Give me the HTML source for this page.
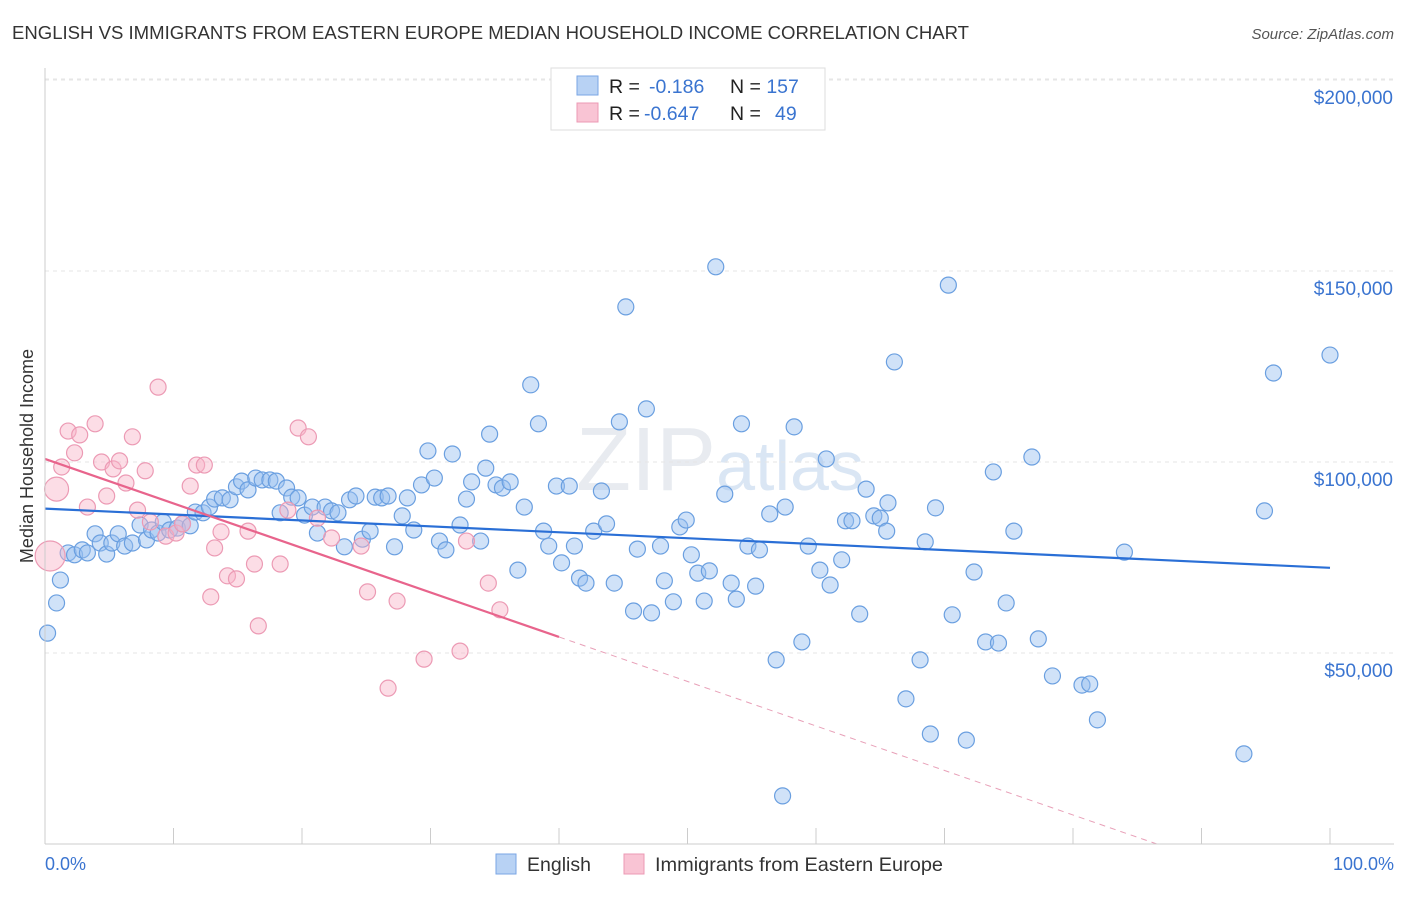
<!DOCTYPE html>
<html><head><meta charset="utf-8"><style>
body{margin:0;background:#fff;font-family:"Liberation Sans",sans-serif;}
svg text{font-family:"Liberation Sans",sans-serif;}
</style></head><body>
<svg id="c" width="1406" height="892" xmlns="http://www.w3.org/2000/svg">
<text x="12" y="39" font-size="18" fill="#333" textLength="957" lengthAdjust="spacingAndGlyphs">ENGLISH VS IMMIGRANTS FROM EASTERN EUROPE MEDIAN HOUSEHOLD INCOME CORRELATION CHART</text>
<text x="1394" y="39" font-size="15" fill="#555" font-style="italic" text-anchor="end">Source: ZipAtlas.com</text>
<text x="33" y="456" font-size="18" fill="#333" text-anchor="middle" transform="rotate(-90 33 456)">Median Household Income</text>
<text x="720" y="490" font-size="90" fill="#e8ebf0" text-anchor="middle" font-family="Liberation Serif">ZIP<tspan fill="#dae6f4" font-family="Liberation Sans" font-size="70">atlas</tspan></text>
<g id="grid"></g><g id="pts"></g><g id="trend"></g>
<line x1="45" y1="68" x2="45" y2="844" stroke="#ccc"/>
<line x1="45" y1="844" x2="1394" y2="844" stroke="#ccc"/>
<text x="45" y="870" font-size="18" fill="#3a74d0">0.0%</text>
<text x="1394" y="870" font-size="18" fill="#3a74d0" text-anchor="end">100.0%</text>
<g>
<rect x="551" y="68" width="274" height="62" fill="#fff" stroke="#ddd"/>
<rect x="577" y="76" width="21" height="19" fill="#b8d2f4" stroke="#7aa6e4"/>
<rect x="577" y="103" width="21" height="19" fill="#f9c4d4" stroke="#ec9ab4"/>
<text x="609" y="93" font-size="19.5" fill="#222">R = <tspan fill="#3a74d0" x="649">-0.186</tspan><tspan x="730">N = </tspan><tspan fill="#3a74d0">157</tspan></text>
<text x="609" y="120" font-size="19.5" fill="#222">R = <tspan fill="#3a74d0" x="644">-0.647</tspan><tspan x="730">N = </tspan><tspan fill="#3a74d0" x="775">49</tspan></text>
</g>
<g>
<rect x="496" y="854" width="20" height="20" fill="#b8d2f4" stroke="#7aa6e4"/>
<text x="527" y="871" font-size="19.5" fill="#333">English</text>
<rect x="624" y="854" width="20" height="20" fill="#f9c4d4" stroke="#ec9ab4"/>
<text x="655" y="871" font-size="19.5" fill="#333" textLength="288" lengthAdjust="spacingAndGlyphs">Immigrants from Eastern Europe</text>
</g>
</svg>
<script>
const yTicks=[50000,100000,150000,200000];
const yTickLabels=["$50,000","$100,000","$150,000","$200,000"];
const englishX=[0.2,0.9,1.2,1.8,2.3,2.9,3.3,3.9,4.3,4.8,5.2,5.7,6.2,6.8,7.4,7.9,8.3,8.8,9.2,9.7,10.3,10.7,11.3,11.7,12.3,12.8,13.2,13.8,14.4,14.9,15.3,15.8,16.4,16.9,17.5,18.0,18.3,18.8,19.2,19.7,20.2,20.8,21.2,21.8,22.3,22.8,23.3,23.7,24.2,24.7,25.3,25.7,26.2,26.7,27.2,27.8,28.2,28.7,29.3,29.8,30.3,30.7,31.2,31.7,32.3,32.8,33.2,33.9,34.3,34.6,35.1,35.6,36.2,36.8,37.3,37.8,38.4,38.8,39.2,39.8,40.2,40.8,41.2,41.6,42.1,42.7,43.3,43.7,44.3,44.7,45.2,45.8,46.1,46.8,47.2,47.9,48.2,48.9,49.4,49.9,50.3,50.8,51.3,51.7,52.2,52.9,53.4,53.8,54.2,54.7,55.3,55.6,56.4,56.9,57.6,57.4,58.3,58.9,59.4,60.3,60.8,61.1,62.0,62.3,62.8,63.4,63.9,64.5,65.0,65.5,65.6,66.1,67.0,68.1,68.5,68.9,69.3,70.3,70.6,71.7,72.3,73.2,73.8,74.2,74.8,75.4,76.8,77.3,78.4,80.7,81.3,81.9,84.0,93.3,94.9,95.6,100.0];
const englishY=[55.2,63.1,69.1,76.2,75.7,77.0,76.2,81.2,78.8,75.9,78.8,81.2,78.0,78.8,83.5,79.6,82.2,81.4,84.3,82.2,82.7,83.8,83.3,86.9,86.7,88.2,90.3,90.6,90.1,93.5,95.0,92.7,95.8,95.3,95.3,95.0,86.7,93.2,90.8,90.6,86.1,88.2,81.4,88.2,87.2,86.7,77.8,90.1,91.1,79.8,81.9,90.8,90.6,91.1,77.8,85.9,90.6,82.2,94.0,102.9,95.8,79.3,77.0,102.1,83.5,90.3,94.8,79.3,98.4,107.3,94.0,93.2,94.8,71.7,88.2,120.2,110.0,81.9,78.0,93.7,73.6,93.7,78.0,69.6,68.3,81.9,92.4,83.8,68.3,110.5,140.6,61.0,77.2,113.9,60.5,78.0,68.9,63.4,83.0,84.8,75.7,70.9,63.6,71.5,151.1,91.6,68.3,64.1,110.0,78.0,67.5,77.0,86.4,48.2,88.2,12.6,109.2,52.9,78.0,71.7,100.8,67.8,74.4,84.6,84.6,60.2,92.9,85.9,85.3,81.9,89.3,126.2,38.0,48.2,79.1,28.8,88.0,146.3,60.0,27.2,71.2,52.9,97.4,52.6,63.1,81.9,101.3,53.7,44.0,41.6,41.9,32.5,76.4,23.6,87.2,123.3,128.0];
const immX=[0.4,0.9,1.3,1.8,2.3,2.7,3.3,3.9,4.4,4.8,5.3,5.8,6.3,6.8,7.2,7.8,8.2,8.8,9.4,10.2,10.7,11.3,11.8,12.4,12.9,13.2,13.7,14.2,14.9,15.8,16.3,16.6,18.3,18.9,19.7,20.5,21.2,22.3,24.6,25.1,26.7,27.4,29.5,32.3,32.8,34.5,35.4];
const immY=[75.4,92.9,98.7,108.1,102.4,107.1,88.2,110.0,100.0,91.1,98.2,100.3,94.5,106.6,87.4,97.7,84.3,119.6,80.6,81.4,83.8,93.7,99.2,99.2,64.7,77.5,81.7,70.2,69.4,81.9,73.3,57.1,73.3,87.4,108.9,106.6,85.3,80.1,78.0,66.0,40.8,63.6,48.4,50.5,79.3,68.3,61.3];
const immR=[15,12,9,9,9,9,9,9,9,9,9,9,9,9,9,9,9,9,9,9,9,9,9,9,9,9,9,9,9,9,9,9,9,9,9,9,9,9,9,9,9,9,9,9,9,9,9];
const englishTrend=[87.8,72.3];
const immTrend=[100.8,54.2];
const NS="http://www.w3.org/2000/svg";
const xs=p=>45+p*12.85;
const ys=v=>844-v*191/50000;
function mk(t,a,parent){const e=document.createElementNS(NS,t);for(const k in a)e.setAttribute(k,a[k]);document.getElementById(parent).appendChild(e);return e;}
yTicks.forEach((t,i)=>{
 const l=mk('line',{x1:45,x2:1394,y1:ys(t),y2:ys(t),stroke:'#e6e6e6','stroke-dasharray':'4,4'},'grid');
 
 
 const tx=mk('text',{x:1393,y:ys(t)+24,'font-size':19,fill:'#3a74d0','text-anchor':'end'},'grid');
 tx.textContent=yTickLabels[i];
 
 
});
mk('line',{x1:45,x2:1394,y1:79,y2:79,stroke:'#e6e6e6','stroke-dasharray':'4,4'},'grid');
for(let i=1;i<=10;i++){
 const l=mk('line',{x1:xs(i*10),x2:xs(i*10),y1:828,y2:844,stroke:'#ccc'},'grid');
 
 
}
englishX.forEach((x,i)=>{
 const c=mk('circle',{cx:xs(x),cy:ys(englishY[i]*1000),r:8,fill:'rgba(150,190,240,0.45)',stroke:'#6a9fe0','stroke-width':1.2},'pts');
 
 
});
immX.forEach((x,i)=>{
 const c=mk('circle',{cx:xs(x),cy:ys(immY[i]*1000),r:immR[i]==9?8:immR[i],fill:'rgba(248,180,200,0.45)',stroke:'#ec9ab4','stroke-width':1.2},'pts');
 
 
});
const bt=mk('line',{x1:xs(0),y1:ys(englishTrend[0]*1000),x2:xs(100),y2:ys(englishTrend[1]*1000),stroke:'#2a6fd6','stroke-width':2.2},'trend');


const pt=mk('line',{x1:xs(0),y1:ys(immTrend[0]*1000),x2:xs(40),y2:ys(immTrend[1]*1000),stroke:'#e8648c','stroke-width':2.2},'trend');


const slope=(immTrend[1]-immTrend[0])/40, xz=-immTrend[0]/slope;
const pd=mk('line',{x1:xs(40),y1:ys(immTrend[1]*1000),x2:xs(xz),y2:ys(0),stroke:'#e8a0b8','stroke-width':1,'stroke-dasharray':'6,5'},'trend');


</script>
</body></html>
